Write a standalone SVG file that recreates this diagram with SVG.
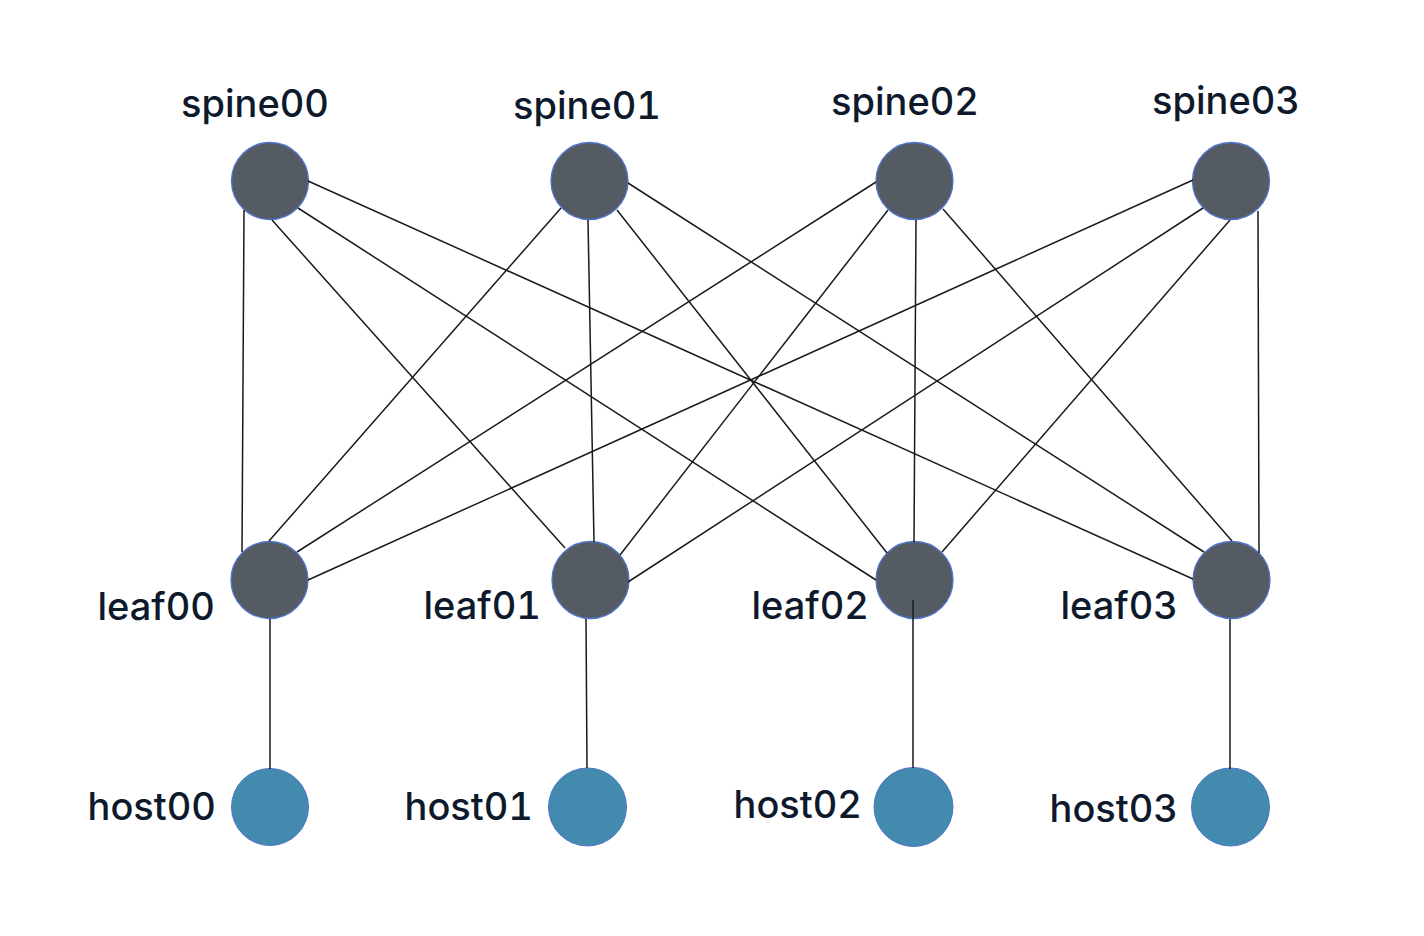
<svg xmlns="http://www.w3.org/2000/svg" width="1424" height="936" viewBox="0 0 1424 936">
<style>
.sw{fill:#555b63;stroke:#4f74c8;stroke-width:1.3}
.h{fill:#428baf;stroke:#4f74c8;stroke-width:1}
.lbl{font-family:Inter,"Noto Sans","Liberation Sans",sans-serif;font-size:38px;font-weight:500;fill:#0e1a2c;font-variant-numeric:tabular-nums;font-feature-settings:"tnum" 1}
.e{stroke:#1a1a1a;stroke-width:1.5;fill:none}
</style>
<rect width="1424" height="936" fill="#ffffff"/>
<g id="spine00"><circle class="sw" cx="270" cy="181" r="38.5"/><text class="lbl" x="255" y="117" text-anchor="middle">spine00</text></g>
<g id="spine01"><circle class="sw" cx="589.5" cy="181" r="38.5"/><text class="lbl" x="587" y="119" text-anchor="middle">spine01</text></g>
<g id="spine02"><circle class="sw" cx="914.5" cy="181" r="38.5"/><text class="lbl" x="905" y="115" text-anchor="middle">spine02</text></g>
<g id="spine03"><circle class="sw" cx="1231" cy="181" r="38.5"/><text class="lbl" x="1226" y="114" text-anchor="middle">spine03</text></g>
<g id="leaf00"><circle class="sw" cx="269.5" cy="580" r="38.5"/><text class="lbl" x="215" y="620" text-anchor="end">leaf00</text></g>
<g id="leaf01"><circle class="sw" cx="590.5" cy="580" r="38.5"/><text class="lbl" x="541" y="619" text-anchor="end">leaf01</text></g>
<g id="leaf02"><circle class="sw" cx="914.5" cy="580" r="38.5"/><text class="lbl" x="869" y="619" text-anchor="end">leaf02</text></g>
<g id="leaf03"><circle class="sw" cx="1231.5" cy="580" r="38.5"/><text class="lbl" x="1178" y="619" text-anchor="end">leaf03</text></g>
<g id="host00"><circle class="h" cx="270" cy="807" r="38.5"/><text class="lbl" x="216" y="820" text-anchor="end">host00</text></g>
<g id="host01"><circle class="h" cx="587.5" cy="807" r="39"/><text class="lbl" x="533" y="820" text-anchor="end">host01</text></g>
<g id="host02"><circle class="h" cx="913.5" cy="807" r="39.5"/><text class="lbl" x="862" y="818" text-anchor="end">host02</text></g>
<g id="host03"><circle class="h" cx="1230.5" cy="807" r="39"/><text class="lbl" x="1178" y="822" text-anchor="end">host03</text></g>
<g id="connectors" class="e">
<line x1="244" y1="210" x2="242" y2="552"/>
<line x1="272" y1="220" x2="565" y2="548"/>
<line x1="298" y1="208" x2="876" y2="580"/>
<line x1="308" y1="181" x2="1193" y2="579"/>
<line x1="561" y1="208" x2="269" y2="541"/>
<line x1="588" y1="220" x2="594" y2="542"/>
<line x1="617" y1="210" x2="887" y2="553"/>
<line x1="628" y1="183" x2="1204" y2="552"/>
<line x1="876" y1="182" x2="297" y2="552"/>
<line x1="888" y1="210" x2="620" y2="555"/>
<line x1="916" y1="220" x2="914" y2="542"/>
<line x1="943" y1="209" x2="1232" y2="541"/>
<line x1="1193" y1="180" x2="308" y2="580"/>
<line x1="1203" y1="208" x2="628" y2="582"/>
<line x1="1230" y1="220" x2="942" y2="552"/>
<line x1="1258" y1="211" x2="1259" y2="553"/>
<line x1="270" y1="619" x2="270" y2="769"/>
<line x1="586" y1="619" x2="587" y2="768"/>
<line x1="913" y1="600" x2="913" y2="768"/>
<line x1="1230" y1="619" x2="1230" y2="769"/>
</g>
</svg>
